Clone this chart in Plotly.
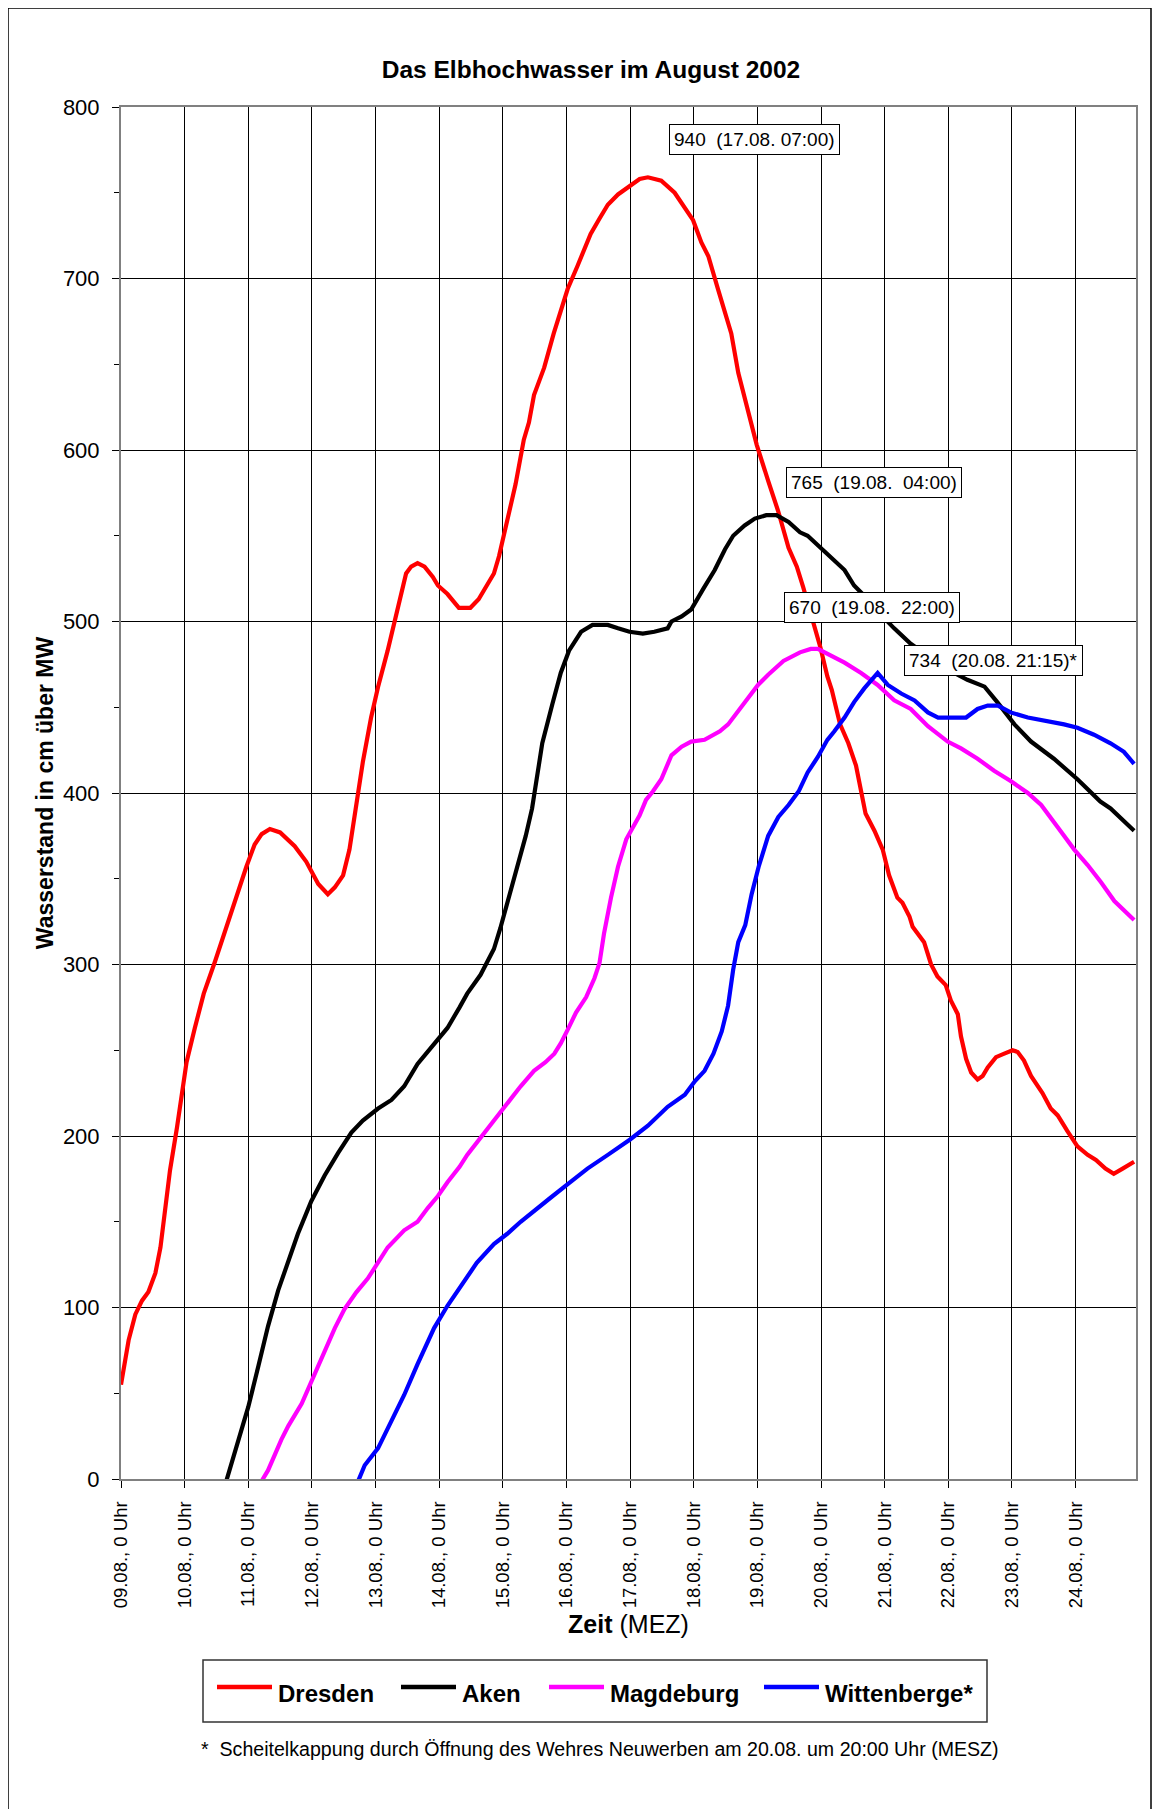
import plotly.graph_objects as go

# ---------------- data (time in days since 09.08.2002 0 Uhr, water level in cm above MW) -------------
dresden_t = [0, 0.12, 0.225, 0.33, 0.43, 0.54, 0.62, 0.69, 0.77, 0.88, 0.96, 1.03, 1.16, 1.3, 1.48, 1.63,
             1.79, 1.97, 2.1, 2.21, 2.34, 2.5, 2.73, 2.91, 3.1, 3.25, 3.36, 3.49, 3.59, 3.67, 3.74, 3.8,
             3.93, 4.04, 4.19, 4.35, 4.48, 4.56, 4.66, 4.77, 4.9, 4.98, 5.13, 5.31, 5.49, 5.62, 5.75, 5.86,
             5.94, 6.04, 6.2, 6.33, 6.41, 6.49, 6.65, 6.8, 6.91, 7.02, 7.17, 7.31, 7.38, 7.52, 7.65, 7.81,
             8.0, 8.15, 8.28, 8.49, 8.7, 8.86, 8.99, 9.12, 9.23, 9.38, 9.59, 9.7, 9.86, 9.99, 10.17, 10.33,
             10.49, 10.62, 10.72, 10.8, 10.9, 10.99, 11.1, 11.17, 11.3, 11.43, 11.55, 11.62, 11.7, 11.84,
             11.97, 12.07, 12.2, 12.28, 12.39, 12.44, 12.54, 12.62, 12.73, 12.83, 12.96, 13.04, 13.15, 13.2,
             13.28, 13.36, 13.46, 13.54, 13.62, 13.75, 13.88, 14.01, 14.09, 14.19, 14.3, 14.48, 14.61, 14.72,
             14.87, 15.03, 15.19, 15.32, 15.47, 15.6, 15.74, 15.92]
dresden_v = [55, 81, 96, 104, 109, 120, 135, 158, 180, 205, 224, 243, 263, 283, 302, 319,
             336, 357, 370, 376, 379, 377, 369, 360, 347, 341, 345, 352, 367, 386, 401, 418,
             444, 462, 483, 507, 528, 532, 534, 532, 526, 521, 516, 508, 508, 513, 521, 528,
             538, 554, 580, 606, 616, 632, 648, 668, 681, 694, 707, 719, 726, 735, 743, 749,
             754, 758, 759, 757, 750, 741, 734, 721, 713, 694, 668, 645, 621, 603, 582, 564,
             543, 532, 520, 510, 497, 485, 468, 460, 440, 429, 416, 402, 388, 378,
             367, 352, 339, 336, 328, 322, 317, 313, 300, 293, 288, 279, 271, 258,
             245, 237, 233, 235, 240, 246, 248, 250, 249, 244, 235, 225, 216, 212,
             203, 194, 189, 186, 181, 178, 181, 185]

aken_t = [1.6, 1.79, 2.0, 2.16, 2.31, 2.47, 2.63, 2.78, 2.99, 3.2, 3.41, 3.62, 3.8, 4.04, 4.25, 4.45,
          4.66, 4.92, 5.13, 5.32, 5.44, 5.65, 5.86, 5.96, 6.07, 6.2, 6.36, 6.46, 6.62, 6.78, 6.91, 7.04,
          7.23, 7.41, 7.65, 7.81, 7.99, 8.2, 8.38, 8.59, 8.65, 8.81, 8.96, 9.15, 9.33, 9.49, 9.62, 9.8,
          9.96, 10.14, 10.3, 10.49, 10.67, 10.79, 11.0, 11.16, 11.37, 11.52, 11.68, 11.94, 12.15, 12.41,
          12.68, 12.94, 13.3, 13.57, 13.77, 14.04, 14.3, 14.66, 15.03, 15.39, 15.55, 15.92]
aken_v = [-8, 16, 42, 66, 89, 110, 128, 143, 162, 177, 190, 202, 209, 216, 221, 229,
          242, 254, 263, 275, 283, 294, 309, 321, 336, 354, 375, 391, 429, 452, 470, 483,
          494, 498, 498, 496, 494, 493, 494, 496, 500, 503, 507, 519, 530, 542, 550, 556,
          560, 562, 562, 558, 552, 550, 543, 537, 530, 521, 515, 504, 496, 487,
          480, 473, 466, 462, 453, 440, 430, 420, 408, 395, 391, 378]

magdeburg_t = [2.1, 2.31, 2.52, 2.63, 2.84, 2.99, 3.2, 3.36, 3.51, 3.7, 3.88, 4.04, 4.19, 4.45, 4.66, 4.82,
               4.98, 5.13, 5.32, 5.44, 5.65, 5.86, 6.07, 6.28, 6.49, 6.67, 6.81, 6.91, 7.02, 7.15, 7.31, 7.44,
               7.52, 7.59, 7.7, 7.81, 7.94, 8.04, 8.15, 8.25, 8.36, 8.49, 8.65, 8.81, 8.96, 9.17, 9.33, 9.41,
               9.54, 9.7, 9.86, 10.01, 10.17, 10.41, 10.67, 10.84, 10.95, 11.1, 11.37, 11.63, 11.89, 12.15,
               12.41, 12.68, 12.99, 13.2, 13.46, 13.72, 13.98, 14.25, 14.46, 14.72, 14.98, 15.19, 15.4, 15.61,
               15.92]
magdeburg_v = [-8, 5, 23, 31, 44, 57, 75, 88, 99, 109, 117, 126, 135, 145, 150, 158,
               165, 173, 182, 189, 199, 209, 219, 229, 238, 243, 248, 254, 262, 272, 281, 292,
               301, 318, 339, 357, 373, 380, 387, 396, 401, 408, 422, 427, 430, 431, 434, 436,
               440, 448, 455, 463, 469, 477, 482, 484, 484, 481, 476, 470, 463, 454,
               449, 439, 430, 426, 420, 413, 407, 400, 393, 380, 367, 358, 348, 337,
               326]

wittenberge_t = [3.65, 3.83, 4.04, 4.25, 4.45, 4.66, 4.92, 5.13, 5.39, 5.59, 5.86, 6.07, 6.28, 6.49, 6.75,
                 7.02, 7.33, 7.65, 8.0, 8.28, 8.59, 8.86, 9.02, 9.17, 9.31, 9.44, 9.54, 9.62, 9.7, 9.81,
                 9.91, 10.02, 10.17, 10.33, 10.49, 10.65, 10.79, 10.95, 11.1, 11.21, 11.37, 11.52, 11.68,
                 11.89, 12.05, 12.26, 12.47, 12.68, 12.84, 13.04, 13.28, 13.46, 13.62, 13.78, 13.98, 14.25,
                 14.56, 14.82, 15.03, 15.29, 15.55, 15.76, 15.92]
wittenberge_v = [-8, 8, 18, 34, 49, 67, 88, 101, 115, 126, 137, 143, 150, 156, 164,
                 172, 181, 189, 198, 206, 217, 224, 232, 238, 248, 261, 276, 297, 313, 323,
                 341, 357, 375, 386, 393, 401, 412, 421, 431, 436, 444, 453, 461,
                 470, 463, 458, 454, 447, 444, 444, 444, 449, 451, 451, 447, 444,
                 442, 440, 438, 434, 429, 424, 417]

series_names = ["Dresden", "Aken", "Magdeburg", "Wittenberge*"]
series_colors = ["#FF0000", "#000000", "#FF00FF", "#0000FF"]

tick_days = list(range(16))
tick_labels = ["%02d.08., 0 Uhr" % (9 + d) for d in tick_days]

# peak labels: text and where the label box sits (days, cm)
peak_texts = ["940\u00a0\u00a0(17.08. 07:00)", "765\u00a0\u00a0(19.08.\u00a0\u00a004:00)",
              "670\u00a0\u00a0(19.08.\u00a0\u00a022:00)", "734\u00a0\u00a0(20.08. 21:15)*"]
peak_x = [9.96, 11.84, 11.80, 13.71]
peak_y = [781, 581, 508, 477]

footnote = "*\u00a0 Scheitelkappung durch Öffnung des Wehres Neuwerben am 20.08. um 20:00 Uhr (MESZ)"

# ---------------- layout geometry (reference pixels) ----------------
OFF = 8                      # page body margin of the html page
W, H = 1172 - OFF, 1809 - OFF
L, R, T, B = 121, 1136, 107, 1479   # plot area in reference pixels


def px_x(px):
    return (px - L) / (R - L)


def px_y(py):
    return (B - py) / (B - T)


FONT = "Liberation Sans, Arial, sans-serif"

fig = go.Figure()
for name, col, t, v in zip(series_names, series_colors,
                           [dresden_t, aken_t, magdeburg_t, wittenberge_t],
                           [dresden_v, aken_v, magdeburg_v, wittenberge_v]):
    fig.add_trace(go.Scatter(x=t, y=v, mode="lines", name=name, showlegend=False,
                             line=dict(color=col, width=4.2)))

annotations = []
shapes = []
for txt, xx, yy in zip(peak_texts, peak_x, peak_y):
    annotations.append(dict(x=xx, y=yy, xref="x", yref="y", text=txt, showarrow=False,
                            font=dict(family=FONT, size=19, color="black"),
                            bgcolor="white", bordercolor="black", borderwidth=1, borderpad=4))

annotations.append(dict(x=px_x(600), y=px_y(1749), xref="paper", yref="paper", text=footnote,
                        showarrow=False, font=dict(family=FONT, size=19.6, color="black"),
                        xanchor="center", yanchor="middle"))

# legend (drawn as box + line samples + labels)
leg_line_x0 = [217, 401, 549, 764]
leg_line_len = 55
leg_text_gap = 4
leg_line_y = 1687
leg_text_y = 1693
shapes.append(dict(type="rect", xref="paper", yref="paper",
                   x0=px_x(203), x1=px_x(987), y0=px_y(1722), y1=px_y(1660),
                   line=dict(color="#333333", width=1.5), fillcolor="white"))
for name, col, lx in zip(series_names, series_colors, leg_line_x0):
    shapes.append(dict(type="line", xref="paper", yref="paper",
                       x0=px_x(lx), x1=px_x(lx + leg_line_len), y0=px_y(leg_line_y), y1=px_y(leg_line_y),
                       line=dict(color=col, width=4.5)))
    annotations.append(dict(x=px_x(lx + leg_line_len + leg_text_gap), y=px_y(leg_text_y),
                            xref="paper", yref="paper", text="<b>%s</b>" % name, showarrow=False,
                            xanchor="left", yanchor="middle",
                            font=dict(family=FONT, size=24, color="black")))

# outer frame
shapes.append(dict(type="rect", xref="paper", yref="paper",
                   x0=px_x(8), x1=px_x(1151), y0=px_y(1812), y1=px_y(8),
                   line=dict(color="black", width=1.5), layer="below"))

fig.update_layout(
    width=W, height=H,
    margin=dict(l=L - OFF, r=W - (R - OFF), t=T - OFF, b=H - (B - OFF), pad=0),
    paper_bgcolor="white", plot_bgcolor="white",
    font=dict(family=FONT, color="black"),
    showlegend=False,
    title=dict(text="<b>Das Elbhochwasser im August 2002</b>", x=(591 - OFF) / W, xanchor="center",
               y=1 - (69 - OFF) / H, yanchor="middle", yref="container",
               font=dict(family=FONT, size=24.5, color="black")),
    xaxis=dict(range=[0, 15.95], tickvals=tick_days, ticktext=tick_labels, tickangle=-90,
               tickfont=dict(family=FONT, size=18.5, color="black"),
               showgrid=True, gridcolor="black", gridwidth=1,
               ticks="outside", ticklen=7, tickcolor="black", ticklabelstandoff=6,
               showline=True, linecolor="#808080", linewidth=2, mirror=True, zeroline=False,
               title=dict(text="<b>Zeit</b> (MEZ)", font=dict(family=FONT, size=25, color="black"),
                          standoff=8)),
    yaxis=dict(range=[0, 800], dtick=100, tick0=0,
               tickfont=dict(family=FONT, size=22, color="black"),
               showgrid=True, gridcolor="black", gridwidth=1,
               ticks="outside", ticklen=7, tickcolor="black", ticklabelstandoff=8,
               minor=dict(dtick=50, ticks="outside", ticklen=5, tickcolor="black", showgrid=False),
               showline=True, linecolor="#808080", linewidth=2, mirror=True, zeroline=False,
               title=dict(text="<b>Wasserstand in cm über MW</b>",
                          font=dict(family=FONT, size=23, color="black"), standoff=3)),
    annotations=annotations,
    shapes=shapes,
)

fig.write_html("out.html")
